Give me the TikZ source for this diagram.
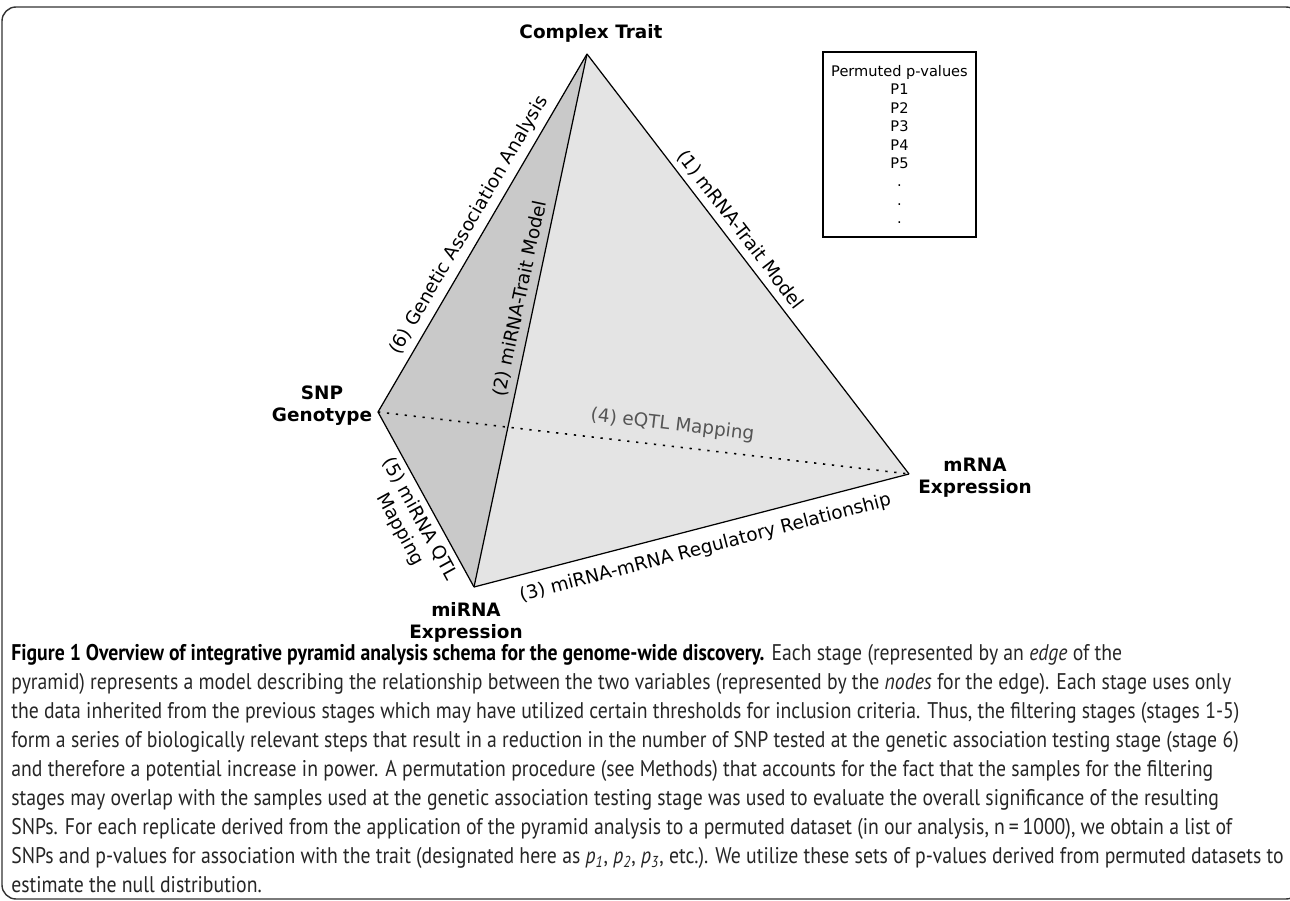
\documentclass[tikz,border=0pt]{standalone}
\usepackage{fontspec}
\newfontfamily\diagfont{DejaVu Sans}
\newfontfamily\capfont[FakeStretch=0.87]{PT Sans}
\usetikzlibrary{positioning,calc}

\definecolor{darkface}{HTML}{C9C9C9}
\definecolor{lightface}{HTML}{E4E4E4}
\definecolor{eqtlgray}{HTML}{555555}

\tikzset{
  vlabel/.style={font=\diagfont\bfseries\fontsize{10.5}{12.5}\selectfont, align=center, inner sep=1pt},
  elabel/.style={font=\diagfont\fontsize{10.5}{12.5}\selectfont, sloped},
  edge/.style={draw=black, line width=0.7pt},
  hidden/.style={draw=black, line width=0.9pt, dash pattern=on 1.3pt off 3.8pt},
}

\begin{document}
\begin{tikzpicture}[x=0.02cm, y=-0.02cm]
\useasboundingbox (0,0) rectangle (1290,901);
\fill[white] (0,0) rectangle (1290,901);

% frame
\draw[line width=0.8pt, black!80, rounded corners=8pt] (2,7) rectangle (1300,899);

% pyramid corners
\coordinate (ct) at (587,54);
\coordinate (snp) at (378,412);
\coordinate (mi) at (474,587);
\coordinate (mr) at (909,474);

% faces
\fill[darkface] (snp) -- (ct) -- (mi) -- cycle;
\fill[lightface] (ct) -- (mi) -- (mr) -- cycle;

% hidden edge
\draw[hidden] (snp) -- (mr) node[elabel, above=3pt, pos=0.55, text=eqtlgray] (eqtl) {(4) eQTL Mapping};

% edges
\draw[edge] (snp) -- (ct) node[elabel, above, pos=0.5] (gaa) {(6) Genetic Association Analysis};
\draw[edge] (mi) -- (ct) node[elabel, above, pos=0.535] (mitrait) {(2) miRNA-Trait Model};
\draw[edge] (ct) -- (mr) node[elabel, above, pos=0.44] (mrtrait) {(1) mRNA-Trait Model};
\draw[edge] (snp) -- (mi) node[elabel, below, pos=0.57, align=center] (miqtl) {(5) miRNA QTL\\Mapping};
\draw[edge] (mi) -- (mr) node[elabel, below=3pt, pos=0.52] (reg) {(3) miRNA-mRNA Regulatory Relationship};

% vertex labels
\node[vlabel] (ctlab) at (591,33) {Complex Trait};
\node[vlabel] (snplab) at (322,406) {SNP\\Genotype};
\node[vlabel] (mrlab) at (975,478) {mRNA\\Expression};
\node[vlabel] (milab) at (466,622) {miRNA\\Expression};

% permuted p-values box
\node[draw, line width=1.2pt, minimum width=3.06cm, minimum height=3.7cm, align=center,
  font=\diagfont\fontsize{8.3}{10.5}\selectfont] (pvals) at (899.5,144.5)
  {Permuted p-values\\P1\\P2\\P3\\P4\\P5\\.\\.\\.};

% caption
\node[anchor=north west, align=left, inner sep=0pt, text=black!85,
  font=\capfont\fontsize{12.9}{16.5}\selectfont] (caption) at (11,644)
  {\textcolor{black}{\textbf{Figure 1 Overview of integrative pyramid analysis schema for the genome-wide discovery.}} Each stage (represented by an \textit{edge} of the\\
  pyramid) represents a model describing the relationship between the two variables (represented by the \textit{nodes} for the edge). Each stage uses only\\
  the data inherited from the previous stages which may have utilized certain thresholds for inclusion criteria. Thus, the filtering stages (stages 1-5)\\
  form a series of biologically relevant steps that result in a reduction in the number of SNP tested at the genetic association testing stage (stage 6)\\
  and therefore a potential increase in power. A permutation procedure (see Methods) that accounts for the fact that the samples for the filtering\\
  stages may overlap with the samples used at the genetic association testing stage was used to evaluate the overall significance of the resulting\\
  SNPs. For each replicate derived from the application of the pyramid analysis to a permuted dataset (in our analysis, n\,=\,1000), we obtain a list of\\
  SNPs and p-values for association with the trait (designated here as \textit{p}\textsubscript{\textit{1}}, \textit{p}\textsubscript{\textit{2}}, \textit{p}\textsubscript{\textit{3}}, etc.). We utilize these sets of p-values derived from permuted datasets to\\
  estimate the null distribution.};
\end{tikzpicture}
\end{document}
